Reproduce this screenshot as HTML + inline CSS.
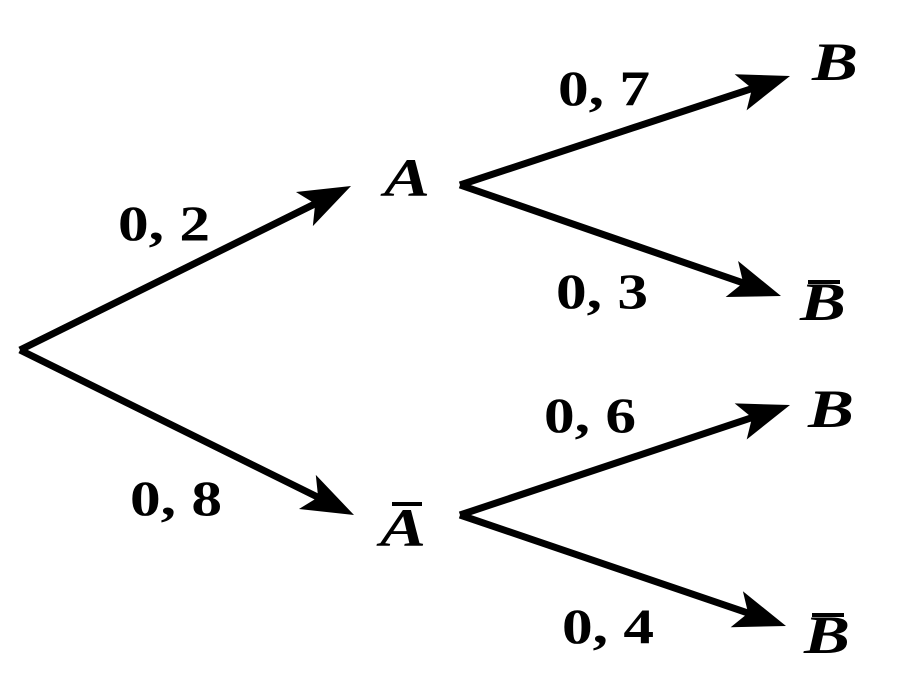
<!DOCTYPE html>
<html><head><meta charset="utf-8"><style>
html,body{margin:0;padding:0;background:#fff;}
svg{display:block}
.n{font-family:"Liberation Serif",serif;font-weight:bold;font-size:50px;fill:#000}
.l{font-family:"Liberation Serif",serif;font-weight:bold;font-style:italic;font-size:54px;fill:#000}
</style></head><body>
<svg id="s" width="918" height="678" viewBox="0 0 918 678" xmlns="http://www.w3.org/2000/svg">
<text class="n" x="118" y="240" textLength="92" lengthAdjust="spacingAndGlyphs">0, 2</text>
<text class="n" x="130" y="515" textLength="92" lengthAdjust="spacingAndGlyphs">0, 8</text>
<text class="n" x="558" y="105" textLength="92" lengthAdjust="spacingAndGlyphs">0, 7</text>
<text class="n" x="556" y="308" textLength="92" lengthAdjust="spacingAndGlyphs">0, 3</text>
<text class="n" x="544" y="432" textLength="92" lengthAdjust="spacingAndGlyphs">0, 6</text>
<text class="n" x="562" y="643" textLength="92" lengthAdjust="spacingAndGlyphs">0, 4</text>
<text class="l" x="384" y="196" textLength="46" lengthAdjust="spacingAndGlyphs">A</text>
<text class="l" x="380" y="546" textLength="46" lengthAdjust="spacingAndGlyphs">A</text>
<rect x="392" y="502" width="30" height="4"/>
<text class="l" x="812" y="80" textLength="46" lengthAdjust="spacingAndGlyphs">B</text>
<text class="l" x="800" y="320" textLength="46" lengthAdjust="spacingAndGlyphs">B</text>
<rect x="808" y="280" width="32" height="4"/>
<text class="l" x="808" y="427" textLength="46" lengthAdjust="spacingAndGlyphs">B</text>
<text class="l" x="804" y="653" textLength="46" lengthAdjust="spacingAndGlyphs">B</text>
<rect x="812" y="613" width="32" height="4"/>
</svg>
<script>
var s=document.getElementById('s'),NS='http://www.w3.org/2000/svg';
function arr(x1,y1,x2,y2){
 var dx=x2-x1,dy=y2-y1,L=Math.hypot(dx,dy),ux=dx/L,uy=dy/L,px=-uy,py=ux;
 var l=document.createElementNS(NS,'line');
 l.setAttribute('x1',x1);l.setAttribute('y1',y1);
 l.setAttribute('x2',x2-ux*30);l.setAttribute('y2',y2-uy*30);
 l.setAttribute('stroke','#000');l.setAttribute('stroke-width','7');
 s.appendChild(l);
 var bx=x2-ux*52,by=y2-uy*52,nx=x2-ux*40,ny=y2-uy*40;
 var p=document.createElementNS(NS,'polygon');
 p.setAttribute('points',[x2,y2,bx+px*19,by+py*19,nx,ny,bx-px*19,by-py*19].join(' '));
 s.appendChild(p);
}
arr(20,350,351,186);
arr(20,350,354,515);
arr(460,185,790,76);
arr(460,185,781,296);
arr(460,515,790,405);
arr(460,515,786,626);
</script>
</body></html>
